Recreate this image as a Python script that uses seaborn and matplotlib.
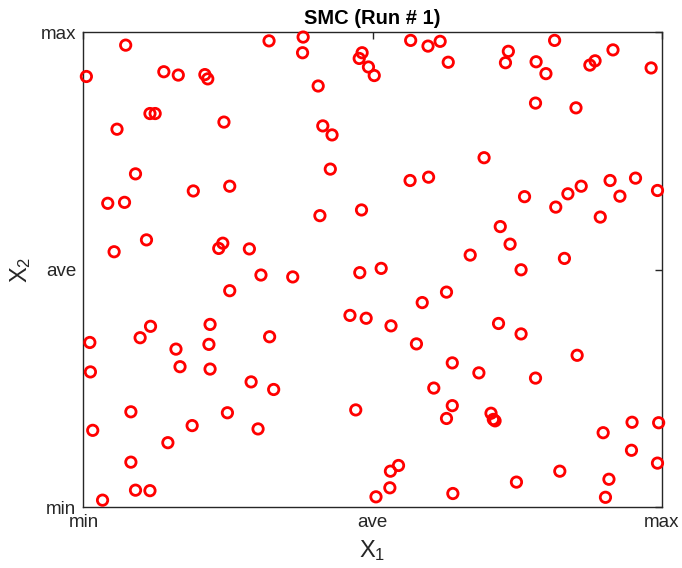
import matplotlib
matplotlib.use("Agg")
import matplotlib.pyplot as plt
import seaborn as sns
import pandas as pd

# Normalised sample positions (0 = min, 0.5 = ave, 1 = max)
x1 = [0.073, 0.321, 0.005, 0.139, 0.164, 0.210, 0.215, 0.115, 0.124, 0.243,
      0.058, 0.090, 0.190, 0.253, 0.042, 0.071, 0.109, 0.053, 0.241, 0.234,
      0.287, 0.307, 0.380, 0.379, 0.482, 0.477, 0.493, 0.503, 0.566, 0.596,
      0.617, 0.631, 0.406, 0.414, 0.430, 0.427, 0.565, 0.597, 0.409, 0.481,
      0.669, 0.362, 0.478, 0.515, 0.815, 0.735, 0.730, 0.783, 0.800, 0.885,
      0.876, 0.916, 0.982, 0.782, 0.852, 0.693, 0.911, 0.955, 0.993, 0.861,
      0.838, 0.763, 0.928, 0.817, 0.894, 0.721, 0.738, 0.832, 0.757, 0.011,
      0.012, 0.016, 0.033, 0.082, 0.082, 0.090, 0.115, 0.146, 0.188, 0.249,
      0.302, 0.290, 0.329, 0.322, 0.219, 0.167, 0.160, 0.217, 0.219, 0.098,
      0.116, 0.253, 0.586, 0.628, 0.461, 0.489, 0.532, 0.576, 0.638, 0.606,
      0.638, 0.628, 0.471, 0.545, 0.531, 0.530, 0.506, 0.639, 0.718, 0.757,
      0.854, 0.684, 0.782, 0.705, 0.709, 0.899, 0.949, 0.995, 0.948, 0.993,
      0.824, 0.909, 0.749, 0.903, 0.712]
x2 = [0.973, 0.982, 0.907, 0.917, 0.910, 0.911, 0.902, 0.829, 0.829, 0.811,
      0.796, 0.702, 0.666, 0.676, 0.640, 0.642, 0.563, 0.538, 0.556, 0.545,
      0.544, 0.489, 0.990, 0.957, 0.957, 0.945, 0.927, 0.909, 0.983, 0.971,
      0.981, 0.937, 0.887, 0.803, 0.784, 0.712, 0.688, 0.695, 0.614, 0.626,
      0.531, 0.485, 0.494, 0.503, 0.983, 0.960, 0.936, 0.938, 0.913, 0.940,
      0.931, 0.963, 0.925, 0.851, 0.841, 0.736, 0.688, 0.693, 0.667, 0.676,
      0.660, 0.654, 0.655, 0.632, 0.611, 0.591, 0.554, 0.524, 0.500, 0.347,
      0.285, 0.162, 0.015, 0.201, 0.095, 0.036, 0.035, 0.136, 0.172, 0.199,
      0.165, 0.264, 0.248, 0.359, 0.291, 0.296, 0.333, 0.343, 0.385, 0.357,
      0.381, 0.456, 0.431, 0.453, 0.404, 0.398, 0.382, 0.344, 0.304, 0.251,
      0.214, 0.187, 0.205, 0.088, 0.076, 0.041, 0.022, 0.029, 0.387, 0.365,
      0.320, 0.283, 0.272, 0.198, 0.185, 0.157, 0.179, 0.178, 0.120, 0.093,
      0.076, 0.059, 0.053, 0.021, 0.182]

tick_pos = [0, 0.5, 1]
tick_labels = ["min", "ave", "max"]
title = "SMC (Run # 1)"

sns.set_style("white")
plt.rcParams['font.family'] = ['Liberation Sans', 'DejaVu Sans']
plt.rcParams['mathtext.default'] = 'regular'

df = pd.DataFrame({"x1": x1, "x2": x2})

fig = plt.figure(figsize=(6.82, 5.68), dpi=100)
ax = fig.add_axes([0.1224, 0.1069, 0.8476, 0.8362])

sns.scatterplot(data=df, x="x1", y="x2", ax=ax, marker="o", s=56,
                facecolors="none", edgecolor="#ff0000", linewidth=2.0,
                clip_on=False, zorder=3)

ax.set_xlim(0, 1)
ax.set_ylim(0, 1)
ax.set_xticks(tick_pos)
ax.set_xticklabels(tick_labels, fontsize=13.5)
ax.set_yticks(tick_pos)
ax.set_yticklabels(tick_labels, fontsize=13.5)
ax.tick_params(direction="in", top=True, right=True, length=5, width=1.0,
               color="#262626", labelcolor="#262626")
ax.tick_params(axis="x", pad=5)
ax.tick_params(axis="y", pad=5)
for sp in ax.spines.values():
    sp.set_visible(True)
    sp.set_color("#262626")
    sp.set_linewidth(1.0)

ax.set_xlabel("X$_1$", fontsize=17, color="#262626", labelpad=5)
ax.set_ylabel("X$_2$", fontsize=17, color="#262626", labelpad=6)
ax.set_title(title, fontsize=14.5, fontweight="bold", color="black", pad=6)

fig.savefig("out.png", dpi=100)
